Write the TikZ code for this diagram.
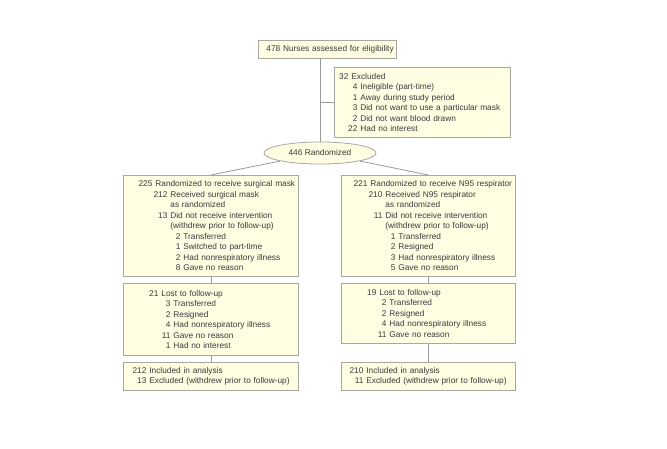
\documentclass[tikz,border=0pt]{standalone}
\usepackage{fontspec}
\setmainfont{Liberation Sans}
\usetikzlibrary{shapes.geometric}
\definecolor{boxfill}{HTML}{FFFDE2}
\definecolor{boxline}{HTML}{A8A8A0}
\definecolor{conn}{HTML}{9A9A9A}
\definecolor{txt}{HTML}{3A3A3A}
\newcommand\nl[3]{\mbox{\makebox[#1bp][r]{#2}\hspace{3bp}#3}}
\newcommand\cl[2]{\mbox{\hspace*{#1bp}#2}}
\begin{document}
\begin{tikzpicture}[x=1bp,y=-1bp,
  box/.style={draw=boxline, fill=boxfill, line width=0.8bp, inner xsep=0pt, inner ysep=0pt,
    align=left, anchor=north west, text=txt,
    font=\fontsize{8.3bp}{10.5bp}\selectfont},
  oval/.style={ellipse, draw=boxline, fill=boxfill, line width=0.8bp, inner sep=0pt, text=txt,
    font=\fontsize{8.3bp}{10.5bp}\selectfont},
  conn/.style={draw=conn, line width=0.8bp}]
\useasboundingbox (0,0) rectangle (667,449);
\fill[white] (0,0) rectangle (667,449);

\node[box, minimum width=138bp, minimum height=18bp, text width=138bp] (top) at (258,40)
  {\cl{8}{478 Nurses assessed for eligibility}};

\node[box, minimum width=176bp, minimum height=70bp, text width=176bp] (excl) at (334,67)
  {\nl{14}{32}{Excluded}\\
   \nl{23}{4}{Ineligible (part-time)}\\
   \nl{23}{1}{Away during study period}\\
   \nl{23}{3}{Did not want to use a particular mask}\\
   \nl{23}{2}{Did not want blood drawn}\\
   \nl{23}{22}{Had no interest}};

\node[oval, minimum width=112bp, minimum height=22bp] (rand) at (320,153) {446 Randomized};

\node[box, minimum width=175bp, minimum height=101bp, text width=175bp] (L1) at (123,175)
  {\nl{29}{225}{Randomized to receive surgical mask}\\
   \nl{44}{212}{Received surgical mask}\\
   \cl{47}{as randomized}\\
   \nl{44}{13}{Did not receive intervention}\\
   \cl{47}{(withdrew prior to follow-up)}\\
   \nl{57}{2}{Transferred}\\
   \nl{57}{1}{Switched to part-time}\\
   \nl{57}{2}{Had nonrespiratory illness}\\
   \nl{57}{8}{Gave no reason}};

\node[box, minimum width=174bp, minimum height=101bp, text width=174bp] (R1) at (341,175)
  {\nl{26}{221}{Randomized to receive N95 respirator}\\
   \nl{41}{210}{Received N95 respirator}\\
   \cl{44}{as randomized}\\
   \nl{41}{11}{Did not receive intervention}\\
   \cl{44}{(withdrew prior to follow-up)}\\
   \nl{54}{1}{Transferred}\\
   \nl{54}{2}{Resigned}\\
   \nl{54}{3}{Had nonrespiratory illness}\\
   \nl{54}{5}{Gave no reason}};

\node[box, minimum width=175bp, minimum height=72bp, text width=175bp] (L2) at (123,283)
  {\nl{35}{21}{Lost to follow-up}\\
   \nl{47}{3}{Transferred}\\
   \nl{47}{2}{Resigned}\\
   \nl{47}{4}{Had nonrespiratory illness}\\
   \nl{47}{11}{Gave no reason}\\
   \nl{47}{1}{Had no interest}};

\node[box, minimum width=174bp, minimum height=60bp, text width=174bp] (R2) at (341,283)
  {\nl{35}{19}{Lost to follow-up}\\
   \nl{45}{2}{Transferred}\\
   \nl{45}{2}{Resigned}\\
   \nl{45}{4}{Had nonrespiratory illness}\\
   \nl{45}{11}{Gave no reason}};

\node[box, minimum width=175bp, minimum height=28bp, text width=175bp] (L3) at (123,362)
  {\nl{23}{212}{Included in analysis}\\
   \nl{23}{13}{Excluded (withdrew prior to follow-up)}};

\node[box, minimum width=174bp, minimum height=28bp, text width=174bp] (R3) at (341,362)
  {\nl{22}{210}{Included in analysis}\\
   \nl{22}{11}{Excluded (withdrew prior to follow-up)}};

\coordinate (br) at (rand.north |- excl.west);
\draw[conn] (rand.north |- top.south) -- (rand.north);
\draw[conn] (br) -- (excl.west);
\draw[conn] (rand.south west) -- (L1.north);
\draw[conn] (rand.south east) -- (R1.north);
\draw[conn] (L1.south) -- (L2.north);
\draw[conn] (L2.south) -- (L3.north);
\draw[conn] (R1.south) -- (R2.north);
\draw[conn] (R2.south) -- (R3.north);
\end{tikzpicture}
\end{document}
